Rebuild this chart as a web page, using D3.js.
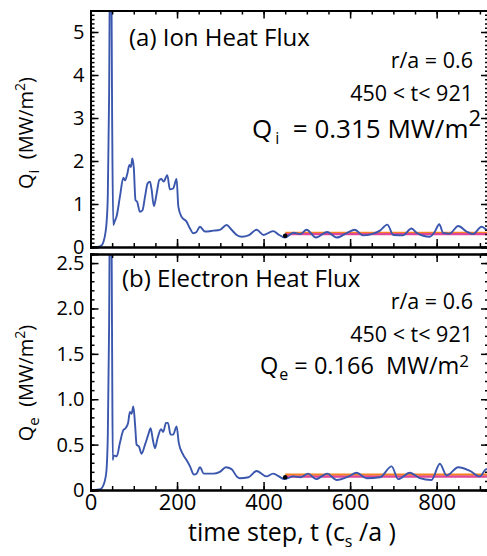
<!DOCTYPE html>
<html>
<head>
<meta charset="utf-8">
<script src="https://cdn.jsdelivr.net/npm/d3@7"></script>
<style>
  body { margin: 0; background: #fff; }
  svg { font-family: "Open Sans", sans-serif; }
</style>
</head>
<body>
<div id="chart"></div>
<script>
// time series: [t, Q]
const ionFlux = [[0,0],[10,0],[20,0.01],[26,0.04],[30,0.12],[34,0.3],[37,0.55],[40,1.2],[43,3.5],[46.5,9],[50,3.0],[52.5,0.51],[56,0.6],[60.5,0.72],[68,1.17],[76,1.61],[80,1.55],[85,1.7],[90,1.91],[93.5,1.86],[96.5,2.06],[100,1.85],[104,1.09],[108,1.05],[114,0.82],[120,0.85],[126,1.17],[132,1.48],[137.5,1.52],[141,1.35],[146.5,0.95],[153,1.25],[159,1.56],[164,1.58],[169,1.52],[177.5,1.67],[183.5,1.34],[191,1.36],[199,1.58],[203,0.94],[210.5,0.70],[222,0.59],[230,0.43],[237.5,0.32],[245,0.35],[253,0.47],[264.5,0.36],[284,0.38],[299,0.40],[314.5,0.51],[326,0.40],[338,0.28],[350,0.24],[365,0.27],[384,0.40],[400,0.28],[422,0.37],[436,0.28],[449,0.22],[469,0.33],[485,0.30],[499.5,0.40],[521,0.22],[547,0.35],[569,0.22],[593,0.33],[611,0.40],[630,0.27],[650,0.30],[669,0.38],[686,0.52],[700,0.28],[722,0.27],[742,0.43],[754,0.33],[784,0.24],[796,0.36],[806,0.53],[815,0.33],[830,0.31],[850,0.49],[869,0.36],[884,0.30],[904,0.47],[916,0.40],[921,0.38]];
const electronFlux = [[0,0],[10,0],[20,0.005],[26,0.02],[30,0.055],[34,0.12],[37,0.22],[40,0.6],[43,1.8],[46.5,4.5],[50,1.5],[51.5,0.33],[53,0.38],[60.5,0.37],[68,0.52],[76,0.66],[81,0.68],[87,0.74],[91,0.86],[95,0.84],[99,0.92],[103,0.72],[106.5,0.50],[112,0.48],[118,0.40],[126,0.50],[133.5,0.61],[139,0.68],[143.5,0.57],[149,0.46],[155,0.57],[163,0.67],[168,0.64],[174.5,0.74],[179,0.74],[185,0.61],[191,0.61],[199,0.70],[204,0.52],[214,0.39],[222,0.33],[230,0.26],[239,0.17],[245,0.18],[253,0.25],[262,0.18],[284,0.18],[299,0.20],[313,0.25],[326,0.23],[338,0.15],[345,0.13],[365,0.14],[384,0.21],[407,0.15],[422,0.18],[449,0.12],[469,0.15],[485,0.14],[503,0.18],[521,0.12],[547,0.18],[569,0.11],[597,0.15],[615,0.19],[638,0.13],[669,0.14],[696,0.26],[711,0.12],[738,0.19],[761,0.13],[788,0.11],[807.5,0.29],[823,0.16],[850,0.25],[877,0.21],[900,0.15],[915,0.23],[921,0.2]];

// averaging window and mean lines (orange, magenta)
const avgWindow = [450, 921];
const ionMeans = [0.328, 0.298];
const electronMeans = [0.170, 0.148];
const windowStart = [[450, 0.26], [450, 0.14]];

const xTicks = [0, 200, 400, 600, 800];
const ionTicks = [0, 1, 2, 3, 4, 5];
const electronTicks = [0, 0.5, 1.0, 1.5, 2.0, 2.5];
const electronTickLabels = ["0", "0.5", "1.0", "1.5", "2.0", "2.5"];

const WIDTH = 487, HEIGHT = 556;
const BLUE = "#3a57ad", ORANGE = "#f58220", PINK = "#e0479a";

const svg = d3.select("#chart").append("svg")
	.attr("width", WIDTH)
	.attr("height", HEIGHT);

const x = d3.scaleLinear().domain([0, 921]).range([90.5, 489]);

const panels = [
	{
		id: "ion", data: ionFlux, means: ionMeans, dot: windowStart[0],
		y: d3.scaleLinear().domain([0, 5.5]).range([247, 10.5]),
		ticks: ionTicks, labels: ionTicks.map(String), labelShift: [-5, 0, 2, 3, 4, 5],
		minor: d3.range(0, 5.51, 0.1),
		xMinor: d3.range(0, 921, 50)
	},
	{
		id: "elec", data: electronFlux, means: electronMeans, dot: windowStart[1],
		y: d3.scaleLinear().domain([0, 2.6]).range([490, 254]),
		ticks: electronTicks, labels: electronTickLabels, labelShift: [-3, 0, 0, 0, 0, 4],
		minor: d3.range(0, 2.61, 0.1),
		xMinor: d3.range(0, 921, 50)
	}
];

panels.forEach((p, i) => {
	const [y0, y1] = p.y.range();
	const [x0, x1] = x.range();
	const g = svg.append("g");

	g.append("clipPath").attr("id", "clip-" + p.id)
		.append("rect")
		.attr("x", x0).attr("y", y1)
		.attr("width", x1 - x0).attr("height", y0 - y1);

	const line = d3.line()
		.x((d) => x(d[0]))
		.y((d) => p.y(d[1]))
		.curve(d3.curveMonotoneX);

	const plot = g.append("g").attr("clip-path", `url(#clip-${p.id})`);
	// mean lines over the averaging window
	[ORANGE, PINK].forEach((c, k) => {
		plot.append("line")
			.attr("x1", x(avgWindow[0])).attr("x2", x(avgWindow[1]))
			.attr("y1", p.y(p.means[k])).attr("y2", p.y(p.means[k]))
			.attr("stroke", c).attr("stroke-width", 2.2);
	});
	plot.append("path")
		.datum(p.data)
		.attr("d", line)
		.attr("fill", "none")
		.attr("stroke", BLUE)
		.attr("stroke-width", 1.9);
	plot.append("circle")
		.attr("cx", x(p.dot[0])).attr("cy", p.y(p.dot[1]))
		.attr("r", 2.3).attr("fill", "#000");

	// axes, ticks point inward
	const left = g.append("g").attr("transform", `translate(${x0},0)`);
	left.call(d3.axisLeft(p.y).tickValues(p.minor).tickSize(-4).tickFormat(""));
	left.append("g").call(d3.axisLeft(p.y).tickValues(p.ticks).tickSize(-8).tickPadding(6)
		.tickFormat((d, j) => p.labels[j]));
	const right = g.append("g").attr("transform", `translate(${x1},0)`);
	right.call(d3.axisRight(p.y).tickValues(p.minor).tickSize(-4).tickFormat(""));
	right.append("g").call(d3.axisRight(p.y).tickValues(p.ticks).tickSize(-8).tickFormat(""));
	const top = g.append("g").attr("transform", `translate(0,${y1})`);
	top.call(d3.axisTop(x).tickValues(p.xMinor).tickSize(-4).tickFormat(""));
	top.append("g").call(d3.axisTop(x).tickValues(xTicks).tickSize(-8).tickFormat(""));
	const bottom = g.append("g").attr("transform", `translate(0,${y0})`);
	bottom.call(d3.axisBottom(x).tickValues(p.xMinor).tickSize(-4).tickFormat(""));
	bottom.append("g").call(d3.axisBottom(x).tickValues(xTicks).tickSize(-8).tickPadding(4)
		.tickFormat(i === 1 ? d3.format("d") : ""));

	g.selectAll(".domain").attr("stroke", "#000").attr("stroke-width", 2);
	g.selectAll(".tick line").attr("stroke", "#000").attr("stroke-width", 1.5);
	left.selectAll("text").attr("font-size", "20px").attr("fill", "#000")
		.attr("font-family", "Open Sans")
		.attr("y", (d, j) => p.labelShift[j]);
	bottom.selectAll("text").attr("font-size", "22px").attr("fill", "#000")
		.attr("font-family", "Open Sans");
});

// panel titles
svg.append("text").attr("x", 129).attr("y", 46)
	.attr("font-size", "24px").text("(a) Ion Heat Flux");
svg.append("text").attr("x", 122).attr("y", 287)
	.attr("font-size", "24px").text("(b) Electron Heat Flux");

// annotations
const notes = [
	{ y: 68, text: "r/a = 0.6" },
	{ y: 101, text: "450 < t< 921" },
	{ y: 309, text: "r/a = 0.6" },
	{ y: 342, text: "450 < t< 921" }
];
notes.forEach((n) => {
	svg.append("text").attr("x", 473).attr("y", n.y)
		.attr("text-anchor", "end").attr("font-size", "21.5px").text(n.text);
});

const qi = svg.append("text").attr("x", 252).attr("y", 138).attr("font-size", "26px");
qi.append("tspan").text("Q");
qi.append("tspan").attr("font-size", "16px").attr("dy", 6).attr("dx", 3).text("i");
qi.append("tspan").attr("dy", -6).text("\u00a0 = 0.315 MW/m");
qi.append("tspan").attr("dy", -12).attr("font-size", "22px").text("2");

const qe = svg.append("text").attr("x", 260).attr("y", 374).attr("font-size", "23.5px");
qe.append("tspan").text("Q");
qe.append("tspan").attr("font-size", "16px").attr("dy", 6).attr("dx", 1).text("e");
qe.append("tspan").attr("dy", -6).text("\u00a0= 0.166\u00a0 MW/m");
qe.append("tspan").attr("dy", -7).attr("font-size", "17px").text("2");

// y titles
[["i", 133], ["e", 383]].forEach(([s, cy]) => {
	const t = svg.append("text")
		.attr("transform", `translate(33,${cy}) rotate(-90)`)
		.attr("text-anchor", "middle").attr("font-size", "20px");
	t.append("tspan").text("Q");
	t.append("tspan").attr("font-size", "15px").attr("dy", 6).text(s);
	t.append("tspan").attr("dy", -6).text("\u00a0 (MW/m");
	t.append("tspan").attr("dy", -8).attr("font-size", "14px").text("2");
	t.append("tspan").attr("dy", 8).text(")");
});

// x title
const xt = svg.append("text").attr("x", 292).attr("y", 541)
	.attr("text-anchor", "middle").attr("font-size", "25px");
xt.append("tspan").text("time step, t (c");
xt.append("tspan").attr("font-size", "16px").attr("dy", 6).text("s");
xt.append("tspan").attr("dy", -6).text("\u00a0/a )");
</script>
</body>
</html>
